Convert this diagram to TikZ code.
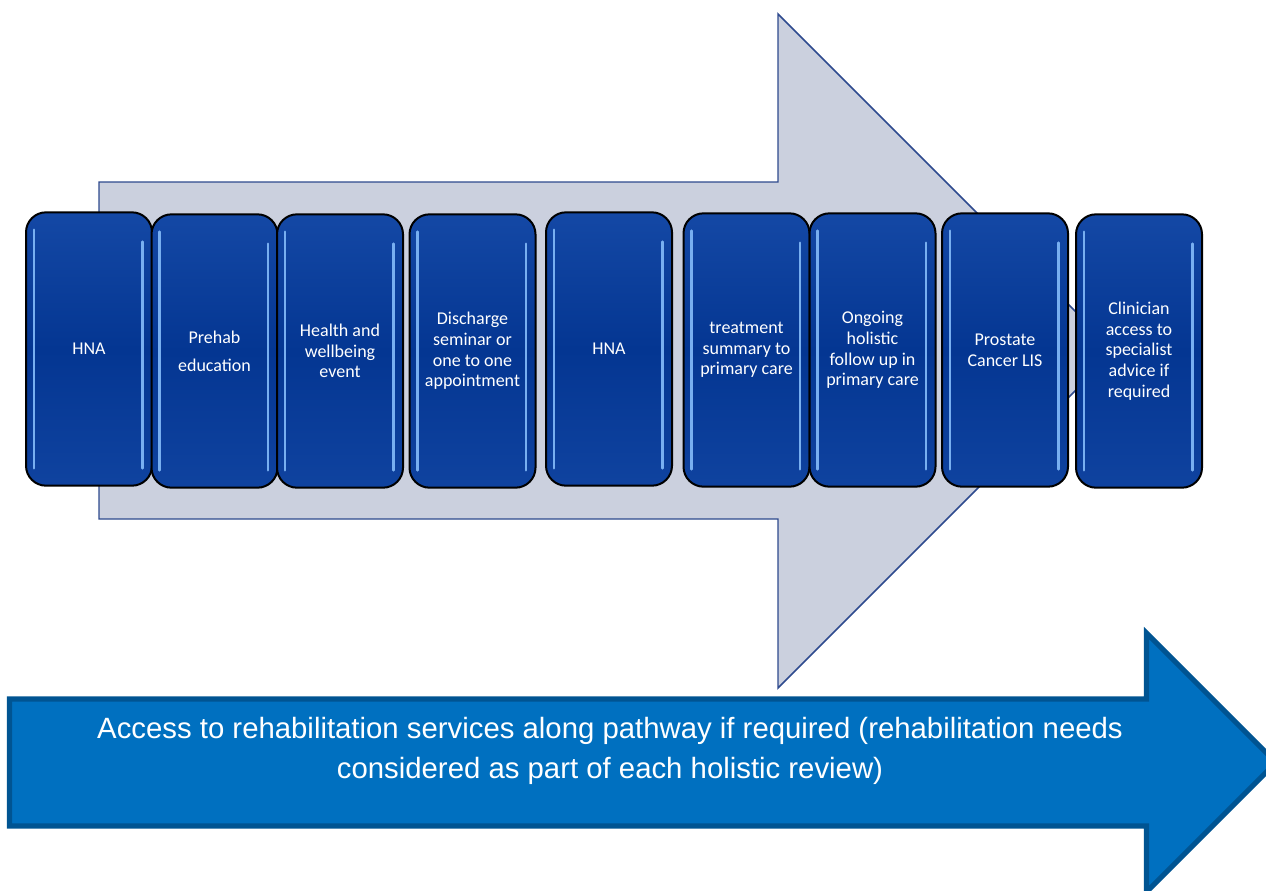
\documentclass[tikz,border=0pt]{standalone}
\usepackage{fontspec}
\setmainfont{Carlito}
\newfontfamily\arialfont{Liberation Sans}
\definecolor{stageblue}{RGB}{4,54,146}
\definecolor{stagetop}{RGB}{20,72,165}
\definecolor{glintblue}{RGB}{120,175,240}
\definecolor{greyfill}{RGB}{203,208,222}
\definecolor{greyline}{RGB}{46,74,142}
\definecolor{rehabfill}{RGB}{0,112,192}
\definecolor{rehabline}{RGB}{0,84,146}
\begin{document}
\begin{tikzpicture}[x=0.75pt, y=-0.75pt,
  stage/.style={rounded corners=15pt, draw=black, line width=1.5pt, minimum width=94.5pt, minimum height=205pt, inner sep=1pt, align=center, text=white, font=\fontsize{13.5}{15.5}\selectfont, top color=stagetop, bottom color=stagetop!70!stageblue, middle color=stageblue,
    path picture={
      \draw[glint] ([shift={(6pt,-13pt)}]path picture bounding box.north west) -- ([shift={(6pt,13pt)}]path picture bounding box.south west);
      \draw[glint] ([shift={(-7pt,-22pt)}]path picture bounding box.north east) -- ([shift={(-7pt,13pt)}]path picture bounding box.south east);
    }},
  glint/.style={glintblue, line width=1.8pt, line cap=round},
  bigarrow/.style={fill=greyfill, draw=greyline, line width=1.1pt},
  rehabarrow/.style={fill=rehabfill, draw=rehabline, line width=3.8pt, line join=miter}]
\clip (0,0) rectangle (1266,890);
\draw[bigarrow] (99,182) -- (778,182) -- (778,14) -- (1115,351) -- (778,688) -- (778,519) -- (99,519) -- cycle;
\draw[rehabarrow] (9.5,699) -- (1146.5,699) -- (1146.5,633) -- (1276,762.5) -- (1146.5,892) -- (1146.5,826) -- (9.5,826) -- cycle;
\node[text=white, align=center, font=\arialfont\fontsize{22}{29.5}\selectfont] (rehab) at (610,751) {Access to rehabilitation services along pathway if required (rehabilitation needs\\considered as part of each holistic review)};
\node[stage] (hna0) at (89,349){HNA};
\node[stage, font=\fontsize{13.5}{21}\selectfont] (prehab) at (214.5,351){Prehab\\education};
\node[stage] (event) at (340,351){Health and\\wellbeing\\event};
\node[stage] (discharge) at (472.5,351){Discharge\\seminar or\\one to one\\appointment};
\node[stage] (hna1) at (609,349){HNA};
\node[stage] (summary) at (746.5,350){treatment\\summary to\\primary care};
\node[stage] (followup) at (872.5,350){Ongoing\\holistic\\follow up in\\primary care};
\node[stage] (lis) at (1005,350){Prostate\\Cancer LIS};
\node[stage] (advice) at (1139,351){Clinician\\access to\\specialist\\advice if\\required};
\end{tikzpicture}
\end{document}
